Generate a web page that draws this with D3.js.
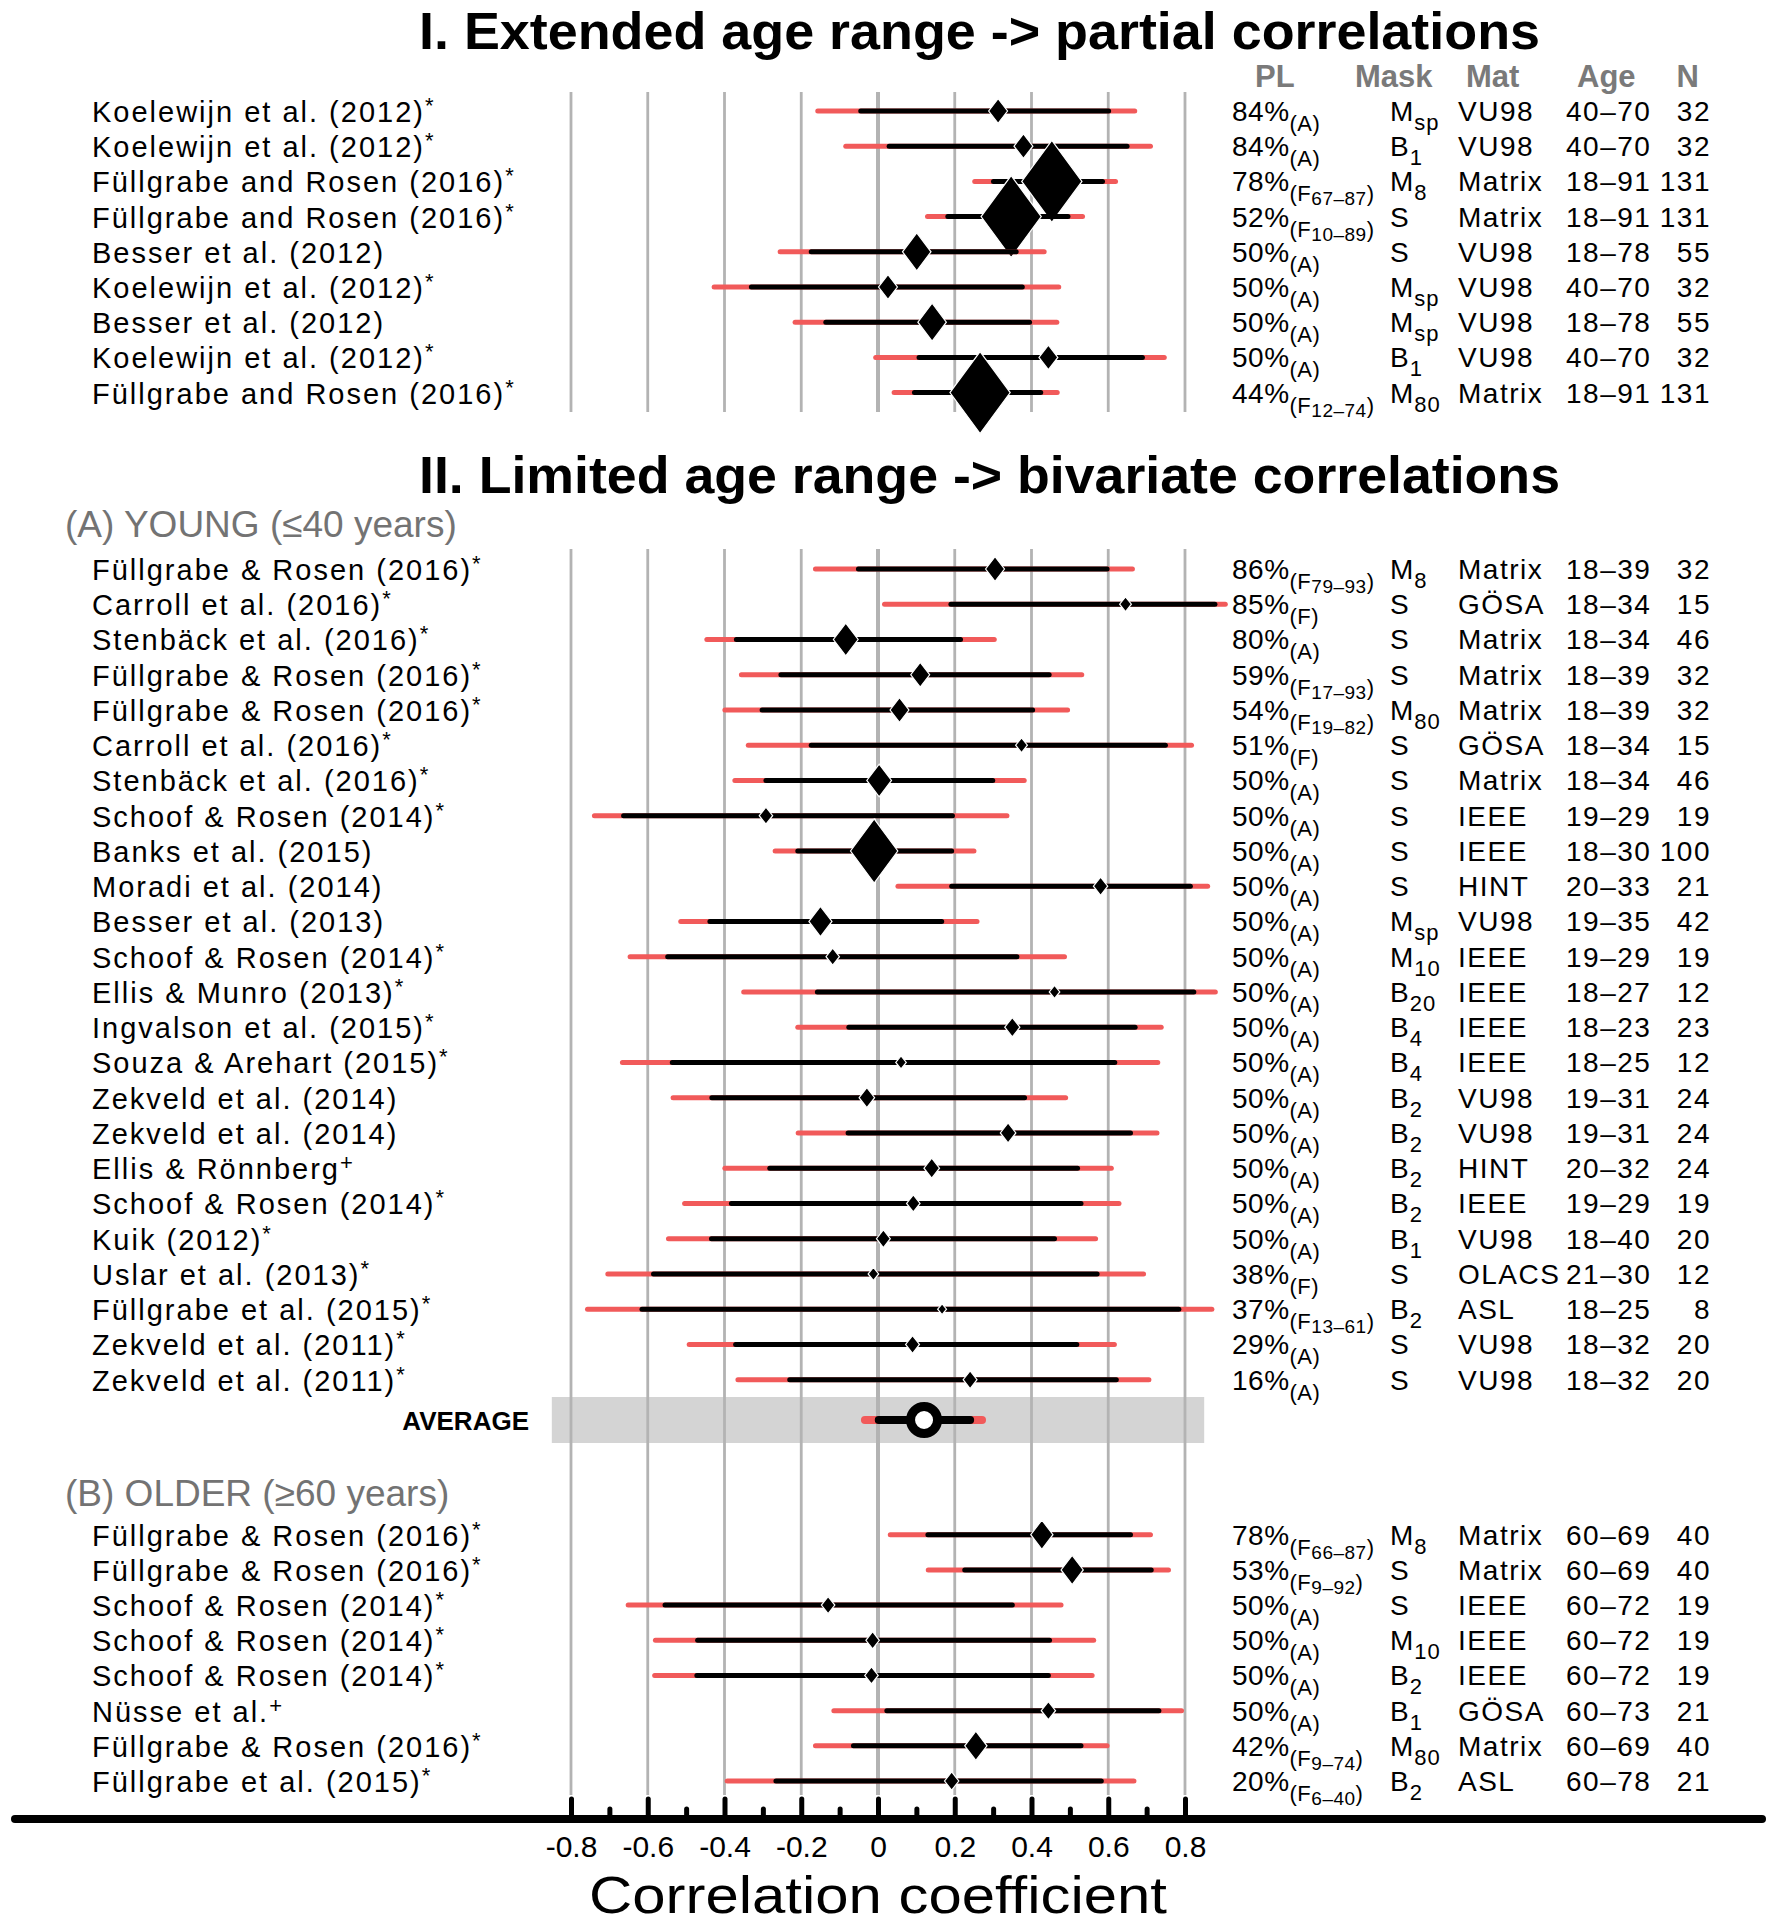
<!DOCTYPE html>
<html>
<head>
<meta charset="utf-8">
<script src="https://cdn.jsdelivr.net/npm/d3@7"></script>
<style>
  body { margin: 0; background: #fff; }
  text { font-family: "Liberation Sans", Arial, sans-serif; }
</style>
</head>
<body>
<svg id="chart" width="1772" height="1925"></svg>
<script>
// label, mark, pl, plSource, plRange, mask, maskSub, material, age, n, r, innerLo, innerHi, outerLo, outerHi
const extendedRows = [
  ['Koelewijn et al. (2012)', '*', '84%', 'A', '', 'M', 'sp', 'VU98', '40–70', 32, 0.313, -0.045, 0.601, -0.157, 0.669],
  ['Koelewijn et al. (2012)', '*', '84%', 'A', '', 'B', '1', 'VU98', '40–70', 32, 0.379, 0.029, 0.649, -0.084, 0.710],
  ['Füllgrabe and Rosen (2016)', '*', '78%', 'F', '67–87', 'M', '8', 'Matrix', '18–91', 131, 0.453, 0.301, 0.585, 0.252, 0.619],
  ['Füllgrabe and Rosen (2016)', '*', '52%', 'F', '10–89', 'S', '', 'Matrix', '18–91', 131, 0.347, 0.182, 0.495, 0.129, 0.533],
  ['Besser et al. (2012)', '', '50%', 'A', '', 'S', '', 'VU98', '18–78', 55, 0.101, -0.174, 0.360, -0.255, 0.433],
  ['Koelewijn et al. (2012)', '*', '50%', 'A', '', 'M', 'sp', 'VU98', '40–70', 32, 0.026, -0.330, 0.376, -0.427, 0.471],
  ['Besser et al. (2012)', '', '50%', 'A', '', 'M', 'sp', 'VU98', '18–78', 55, 0.141, -0.136, 0.395, -0.216, 0.466],
  ['Koelewijn et al. (2012)', '*', '50%', 'A', '', 'B', '1', 'VU98', '40–70', 32, 0.444, 0.107, 0.689, -0.006, 0.746],
  ['Füllgrabe and Rosen (2016)', '*', '44%', 'F', '12–74', 'M', '80', 'Matrix', '18–91', 131, 0.266, 0.095, 0.424, 0.042, 0.467]
];

const youngRows = [
  ['Füllgrabe & Rosen (2016)', '*', '86%', 'F', '79–93', 'M', '8', 'Matrix', '18–39', 32, 0.305, -0.051, 0.597, -0.163, 0.663],
  ['Carroll et al. (2016)', '*', '85%', 'F', '', 'S', '', 'GÖSA', '18–34', 15, 0.645, 0.190, 0.878, 0.017, 0.905],
  ['Stenbäck et al. (2016)', '*', '80%', 'A', '', 'S', '', 'Matrix', '18–34', 46, -0.084, -0.369, 0.215, -0.446, 0.303],
  ['Füllgrabe & Rosen (2016)', '*', '59%', 'F', '17–93', 'S', '', 'Matrix', '18–39', 32, 0.110, -0.253, 0.446, -0.356, 0.531],
  ['Füllgrabe & Rosen (2016)', '*', '54%', 'F', '19–82', 'M', '80', 'Matrix', '18–39', 32, 0.056, -0.302, 0.403, -0.399, 0.494],
  ['Carroll et al. (2016)', '*', '51%', 'F', '', 'S', '', 'GÖSA', '18–34', 15, 0.374, -0.174, 0.749, -0.338, 0.817],
  ['Stenbäck et al. (2016)', '*', '50%', 'A', '', 'S', '', 'Matrix', '18–34', 46, 0.003, -0.292, 0.299, -0.373, 0.381],
  ['Schoof & Rosen (2014)', '*', '50%', 'A', '', 'S', '', 'IEEE', '19–29', 19, -0.292, -0.663, 0.194, -0.739, 0.336],
  ['Banks et al. (2015)', '', '50%', 'A', '', 'S', '', 'IEEE', '18–30', 100, -0.010, -0.209, 0.192, -0.268, 0.250],
  ['Moradi et al. (2014)', '', '50%', 'A', '', 'S', '', 'HINT', '20–33', 21, 0.580, 0.192, 0.814, 0.052, 0.859],
  ['Besser et al. (2013)', '', '50%', 'A', '', 'M', 'sp', 'VU98', '19–35', 42, -0.150, -0.438, 0.166, -0.514, 0.258],
  ['Schoof & Rosen (2014)', '*', '50%', 'A', '', 'M', '10', 'IEEE', '19–29', 19, -0.118, -0.548, 0.362, -0.646, 0.486],
  ['Ellis & Munro (2013)', '*', '50%', 'A', '', 'B', '20', 'IEEE', '18–27', 12, 0.460, -0.158, 0.823, -0.350, 0.879],
  ['Ingvalson et al. (2015)', '*', '50%', 'A', '', 'B', '4', 'IEEE', '18–23', 23, 0.350, -0.076, 0.670, -0.209, 0.738],
  ['Souza & Arehart (2015)', '*', '50%', 'A', '', 'B', '4', 'IEEE', '18–25', 12, 0.060, -0.536, 0.617, -0.666, 0.729],
  ['Zekveld et al. (2014)', '', '50%', 'A', '', 'B', '2', 'VU98', '19–31', 24, -0.029, -0.433, 0.382, -0.534, 0.489],
  ['Zekveld et al. (2014)', '', '50%', 'A', '', 'B', '2', 'VU98', '19–31', 24, 0.339, -0.078, 0.658, -0.208, 0.727],
  ['Ellis & Rönnberg', '+', '50%', 'A', '', 'B', '2', 'HINT', '20–32', 24, 0.140, -0.282, 0.520, -0.399, 0.608],
  ['Schoof & Rosen (2014)', '*', '50%', 'A', '', 'B', '2', 'IEEE', '19–29', 19, 0.092, -0.382, 0.529, -0.504, 0.628],
  ['Kuik (2012)', '*', '50%', 'A', '', 'B', '1', 'VU98', '18–40', 20, 0.014, -0.434, 0.460, -0.546, 0.567],
  ['Uslar et al. (2013)', '*', '38%', 'F', '', 'S', '', 'OLACS', '21–30', 12, -0.012, -0.585, 0.571, -0.704, 0.692],
  ['Füllgrabe et al. (2015)', '*', '37%', 'F', '13–61', 'B', '2', 'ASL', '18–25', 8, 0.167, -0.615, 0.784, -0.757, 0.870],
  ['Zekveld et al. (2011)', '*', '29%', 'A', '', 'S', '', 'VU98', '18–32', 20, 0.090, -0.371, 0.518, -0.492, 0.616],
  ['Zekveld et al. (2011)', '*', '16%', 'A', '', 'S', '', 'VU98', '18–32', 20, 0.240, -0.230, 0.621, -0.365, 0.706]
];

// r, innerLo, innerHi, outerLo, outerHi
const youngAverage = [0.120, 0.002, 0.240, -0.034, 0.271];

const olderRows = [
  ['Füllgrabe & Rosen (2016)', '*', '78%', 'F', '66–87', 'M', '8', 'Matrix', '60–69', 40, 0.427, 0.130, 0.658, 0.032, 0.710],
  ['Füllgrabe & Rosen (2016)', '*', '53%', 'F', '9–92', 'S', '', 'Matrix', '60–69', 40, 0.506, 0.226, 0.712, 0.131, 0.757],
  ['Schoof & Rosen (2014)', '*', '50%', 'A', '', 'S', '', 'IEEE', '60–72', 19, -0.130, -0.555, 0.350, -0.651, 0.477],
  ['Schoof & Rosen (2014)', '*', '50%', 'A', '', 'M', '10', 'IEEE', '60–72', 19, -0.014, -0.470, 0.447, -0.580, 0.562],
  ['Schoof & Rosen (2014)', '*', '50%', 'A', '', 'B', '2', 'IEEE', '60–72', 19, -0.017, -0.472, 0.444, -0.582, 0.558],
  ['Nüsse et al.', '+', '50%', 'A', '', 'B', '1', 'GÖSA', '60–73', 21, 0.444, 0.023, 0.732, -0.115, 0.791],
  ['Füllgrabe & Rosen (2016)', '*', '42%', 'F', '9–74', 'M', '80', 'Matrix', '60–69', 40, 0.255, -0.064, 0.529, -0.163, 0.597],
  ['Füllgrabe et al. (2015)', '*', '20%', 'F', '6–40', 'B', '2', 'ASL', '60–78', 21, 0.192, -0.266, 0.582, -0.393, 0.667]
];

const columnHeaders = ['PL', 'Mask', 'Mat', 'Age', 'N'];
const gridTicks = [-0.8, -0.6, -0.4, -0.2, 0, 0.2, 0.4, 0.6, 0.8];
const minorTicks = [-0.7, -0.5, -0.3, -0.1, 0.1, 0.3, 0.5, 0.7];

const red = '#f15a5a';
const grey = '#b3b3b3';
const col = { pl: 1232, mask: 1390, mat: 1458, age: 1566, n: 1711 };

const svg = d3.select('#chart');
const x = d3.scaleLinear().domain([-0.8, 0.8]).range([571, 1185]);
const half = d3.scaleLinear().domain([0, 131]).range([3, 41]);

const drawGrid = (y0, y1) => {
  svg.append('g')
    .selectAll('line')
    .data(gridTicks)
    .join('line')
    .attr('x1', d => x(d)).attr('x2', d => x(d))
    .attr('y1', y0).attr('y2', y1)
    .attr('stroke', grey)
    .attr('stroke-width', d => (d === 0 ? 4 : 2.8));
};

const drawTitle = (text, y, width) => {
  svg.append('text')
    .attr('x', 419).attr('y', y)
    .attr('font-size', 52).attr('font-weight', 'bold')
    .attr('textLength', width).attr('lengthAdjust', 'spacingAndGlyphs')
    .text(text);
};

const drawGroupLabel = (text, y) => {
  svg.append('text')
    .attr('x', 65).attr('y', y)
    .attr('font-size', 37).attr('fill', '#737373')
    .text(text);
};

const drawRows = (rows, y) => {
  const g = svg.append('g');

  const row = g.selectAll('g.row')
    .data(rows)
    .join('g')
    .attr('class', 'row')
    .attr('transform', (d, i) => 'translate(0,' + y(i) + ')');

  row.append('line')
    .attr('x1', d => x(d[13])).attr('x2', d => x(d[14]))
    .attr('stroke', red).attr('stroke-width', 5).attr('stroke-linecap', 'round');
  row.append('line')
    .attr('x1', d => x(d[11])).attr('x2', d => x(d[12]))
    .attr('stroke', '#000').attr('stroke-width', 5).attr('stroke-linecap', 'round');
  row.append('path')
    .attr('d', d => {
      const h = half(d[9]), w = 0.72 * h + 0.6, cx = x(d[10]);
      return 'M' + cx + ',' + -h + 'L' + (cx + w) + ',0L' + cx + ',' + h + 'L' + (cx - w) + ',0Z';
    })
    .attr('fill', '#000').attr('stroke', '#fff').attr('stroke-width', 1.2);

  // study label, with its footnote mark set as a superscript
  const label = row.append('text')
    .attr('x', 92).attr('y', 11)
    .attr('font-size', 29).attr('letter-spacing', 2);
  label.append('tspan').text(d => d[0]);
  label.filter(d => d[1])
    .append('tspan')
    .attr('font-size', 22).attr('dy', -9)
    .text(d => d[1]);

  const pl = row.append('text')
    .attr('x', col.pl).attr('y', 10)
    .attr('font-size', 28).attr('letter-spacing', 0.5);
  pl.append('tspan').text(d => d[2]);
  pl.each(function(d) {
    const t = d3.select(this);
    if (d[4]) {
      t.append('tspan').attr('font-size', 22).attr('dy', 10).text('(' + d[3]);
      t.append('tspan').attr('font-size', 19).attr('dy', 4).text(d[4]);
      t.append('tspan').attr('font-size', 22).attr('dy', -4).text(')');
    } else {
      t.append('tspan').attr('font-size', 22).attr('dy', 10).text('(' + d[3] + ')');
    }
  });

  const mask = row.append('text')
    .attr('x', col.mask).attr('y', 10)
    .attr('font-size', 28).attr('letter-spacing', 1);
  mask.append('tspan').text(d => d[5]);
  mask.filter(d => d[6])
    .append('tspan').attr('font-size', 22).attr('dy', 9).text(d => d[6]);

  row.append('text')
    .attr('x', col.mat).attr('y', 10)
    .attr('font-size', 28).attr('letter-spacing', 1.5)
    .text(d => d[7]);
  row.append('text')
    .attr('x', col.age).attr('y', 10)
    .attr('font-size', 28).attr('letter-spacing', 1.5)
    .text(d => d[8]);
  row.append('text')
    .attr('x', col.n).attr('y', 10)
    .attr('font-size', 28).attr('letter-spacing', 1.5)
    .attr('text-anchor', 'end')
    .text(d => d[9]);
};

// I. extended age range
drawTitle('I. Extended age range -> partial correlations', 49, 1121);

svg.append('g')
  .selectAll('text')
  .data(columnHeaders)
  .join('text')
  .attr('x', (d, i) => [1255, 1355, 1466, 1577, 1699][i])
  .attr('y', 87)
  .attr('text-anchor', d => (d === 'N' ? 'end' : 'start'))
  .attr('font-size', 31).attr('font-weight', 'bold').attr('fill', '#7a7a7a')
  .text(d => d);

drawGrid(92, 412);
drawRows(extendedRows, d3.scaleLinear().domain([0, 8]).range([111, 392.6]));

// II. limited age range
drawTitle('II. Limited age range -> bivariate correlations', 493, 1141);
drawGroupLabel('(A) YOUNG (≤40 years)', 537);
drawGroupLabel('(B) OLDER (≥60 years)', 1506);

svg.append('rect')
  .attr('x', x(-0.85)).attr('width', x(0.85) - x(-0.85))
  .attr('y', 1397).attr('height', 46)
  .attr('fill', '#d4d4d4');

drawGrid(549, 1795);
drawRows(youngRows, d3.scaleLinear().domain([0, 23]).range([569, 1379.7]));
drawRows(olderRows, d3.scaleLinear().domain([0, 7]).range([1534.7, 1781]));

// average of the young group
const avg = svg.append('g').attr('transform', 'translate(0,1420)');
avg.append('line')
  .attr('x1', x(youngAverage[3])).attr('x2', x(youngAverage[4]))
  .attr('stroke', red).attr('stroke-width', 8).attr('stroke-linecap', 'round');
avg.append('line')
  .attr('x1', x(youngAverage[1])).attr('x2', x(youngAverage[2]))
  .attr('stroke', '#000').attr('stroke-width', 8).attr('stroke-linecap', 'round');
avg.append('circle')
  .attr('cx', x(youngAverage[0])).attr('r', 13.5)
  .attr('fill', '#fff').attr('stroke', '#000').attr('stroke-width', 9);
avg.append('text')
  .attr('x', 529).attr('y', 10)
  .attr('text-anchor', 'end')
  .attr('font-size', 26).attr('font-weight', 'bold')
  .text('AVERAGE');

// x axis
const axisY = 1819;

svg.append('g')
  .attr('transform', 'translate(0,' + (axisY - 2) + ')')
  .call(d3.axisTop(x).tickValues(gridTicks).tickSize(18).tickFormat(''))
  .call(g => g.select('.domain').remove())
  .call(g => g.selectAll('line').attr('stroke-width', 5).attr('stroke-linecap', 'round'));

svg.append('g')
  .attr('transform', 'translate(0,' + (axisY - 2) + ')')
  .call(d3.axisTop(x).tickValues(minorTicks).tickSize(8).tickFormat(''))
  .call(g => g.select('.domain').remove())
  .call(g => g.selectAll('line').attr('stroke-width', 5).attr('stroke-linecap', 'round'));

svg.append('line')
  .attr('x1', 15).attr('x2', 1762)
  .attr('y1', axisY).attr('y2', axisY)
  .attr('stroke', '#000').attr('stroke-width', 8).attr('stroke-linecap', 'round');

svg.append('g')
  .attr('transform', 'translate(0,' + axisY + ')')
  .call(d3.axisBottom(x).tickValues(gridTicks).tickSize(0).tickPadding(17)
    .tickFormat(d => (d === 0 ? '0' : d.toFixed(1))))
  .call(g => g.select('.domain').remove())
  .call(g => g.selectAll('text')
    .attr('font-size', 30)
    .attr('font-family', '"Liberation Sans", Arial, sans-serif')
    .attr('fill', '#000'));

svg.append('text')
  .attr('x', x(0)).attr('y', 1913)
  .attr('text-anchor', 'middle')
  .attr('font-size', 52)
  .attr('textLength', 578).attr('lengthAdjust', 'spacingAndGlyphs')
  .text('Correlation coefficient');
</script>
</body>
</html>
